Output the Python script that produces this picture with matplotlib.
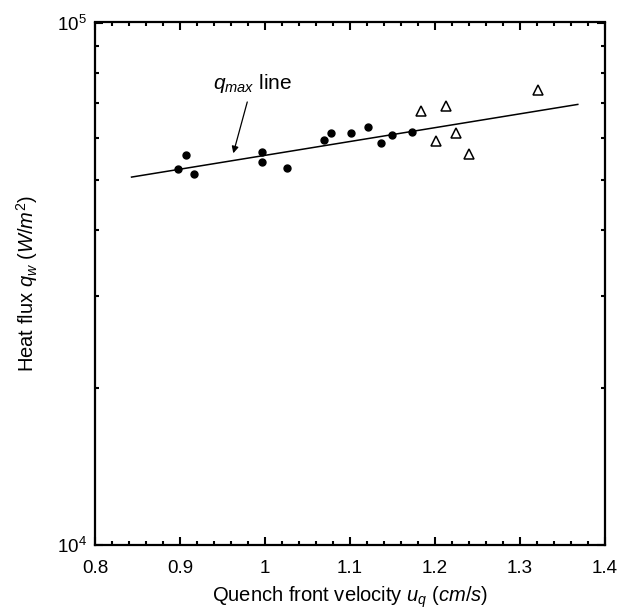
import matplotlib
matplotlib.use("Agg")
import matplotlib.pyplot as plt
from matplotlib.ticker import MultipleLocator, LogLocator, NullFormatter, FixedLocator

plt.rcParams['font.family'] = ['Liberation Sans', 'DejaVu Sans']
plt.rcParams['mathtext.fontset'] = 'custom'
plt.rcParams['mathtext.rm'] = 'Liberation Sans'
plt.rcParams['mathtext.it'] = 'Liberation Sans:italic'

# data
circ_u = [0.898, 0.907, 0.916, 0.997, 0.997, 1.026, 1.069, 1.078, 1.101, 1.121, 1.136, 1.150, 1.173]
circ_q = [52400, 55800, 51350, 56500, 54100, 52700, 59600, 61500, 61500, 63100, 58900, 61000, 61800]
tri_u = [1.184, 1.201, 1.213, 1.225, 1.240, 1.321]
tri_q = [67800, 59400, 69200, 61400, 55900, 74300]
line_u = [0.843, 1.368]
line_q = [50600, 69700]

fig = plt.figure(figsize=(6.38, 6.14), dpi=100)
ax = fig.add_axes([95/638, 1-545/614, 510/638, 522.5/614])

ax.plot(line_u, line_q, '-', color='black', lw=1.1)
ax.plot(circ_u, circ_q, 'o', color='black', ms=5)
ax.plot(tri_u, tri_q, '^', mfc='white', mec='black', mew=1.1, ms=7)

ax.set_yscale('log')
ax.set_xlim(0.8, 1.4)
ax.set_ylim(1e4, 1e5)
ax.xaxis.set_minor_locator(MultipleLocator(0.02))
ax.set_xticks([0.8, 0.9, 1.0, 1.1, 1.2, 1.3, 1.4])
ax.set_xticklabels(['0.8', '0.9', '1', '1.1', '1.2', '1.3', '1.4'])
ax.yaxis.set_major_locator(FixedLocator([1e4, 1e5]))
ax.yaxis.set_minor_locator(LogLocator(base=10, subs=range(2, 10)))
ax.yaxis.set_minor_formatter(NullFormatter())
ax.set_yticklabels(['$\\mathregular{10^4}$', '$\\mathregular{10^5}$'])

ax.tick_params(which='both', direction='in', top=True, right=True, labelsize=13.5, width=1.5)
ax.tick_params(which='major', length=5.5)
ax.tick_params(axis='x', which='major', pad=11)
ax.tick_params(axis='y', which='major', pad=6)
ax.tick_params(which='minor', length=3)
for s in ax.spines.values():
    s.set_linewidth(1.6)

ax.set_xlabel('Quench front velocity $u_q$ ($cm/s$)', fontsize=14.5, labelpad=5)
ax.set_ylabel('Heat flux $q_w$ ($W/m^2$)', fontsize=14.5, labelpad=12)

ax.annotate('$q_{max}$ line', xy=(0.9627, 56200), xytext=(0.985, 72600),
            ha='center', va='bottom', fontsize=15,
            arrowprops=dict(arrowstyle='-|>', color='black', lw=0.9,
                            mutation_scale=10, shrinkA=3, shrinkB=0))

fig.savefig('out.png', dpi=100)
